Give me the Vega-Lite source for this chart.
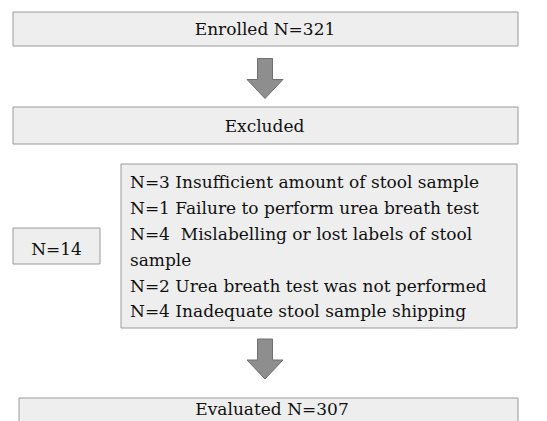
{
  "$schema": "https://vega.github.io/schema/vega-lite/v6.json",
  "width": 547,
  "height": 421,
  "padding": 0,
  "autosize": "none",
  "background": "white",
  "config": {"view": {"stroke": null}},
  "datasets": {
    "boxes": [
      {"box": "Enrolled", "x1": 13, "x2": 518, "y1": 12, "y2": 46},
      {"box": "Excluded", "x1": 13, "x2": 518, "y1": 107, "y2": 144},
      {"box": "N14", "x1": 13, "x2": 100, "y1": 228, "y2": 264},
      {"box": "Reasons", "x1": 121, "x2": 517, "y1": 164, "y2": 328},
      {"box": "Evaluated", "x1": 19, "x2": 518, "y1": 398, "y2": 440}
    ],
    "arrows": [
      {"arrow": "a1", "x": 265, "y": 78.5},
      {"arrow": "a2", "x": 265, "y": 359}
    ],
    "centered": [
      {"text": "Enrolled N=321", "x": 265, "y": 35},
      {"text": "Excluded", "x": 264.5, "y": 132},
      {"text": "N=14", "x": 56.5, "y": 255},
      {"text": "Evaluated N=307", "x": 272, "y": 415}
    ],
    "reasons": [
      {"text": "N=3 Insufficient amount of stool sample", "x": 130, "y": 188},
      {"text": "N=1 Failure to perform urea breath test", "x": 130, "y": 214},
      {"text": "N=4\u00a0 Mislabelling or lost labels of stool", "x": 130, "y": 240},
      {"text": "sample", "x": 130, "y": 266},
      {"text": "N=2 Urea breath test was not performed", "x": 130, "y": 292},
      {"text": "N=4 Inadequate stool sample shipping", "x": 130, "y": 317}
    ]
  },
  "layer": [
    {
      "data": {"name": "boxes"},
      "mark": {"type": "rect", "fill": "#eeeeee", "stroke": "#9a9a9a", "strokeWidth": 1},
      "encoding": {
        "x": {"field": "x1", "type": "quantitative", "scale": {"domain": [0, 547], "nice": false, "zero": false}, "axis": null},
        "x2": {"field": "x2"},
        "y": {"field": "y1", "type": "quantitative", "scale": {"domain": [0, 421], "nice": false, "zero": false, "reverse": true}, "axis": null},
        "y2": {"field": "y2"}
      }
    },
    {
      "data": {"name": "arrows"},
      "mark": {"type": "point", "shape": "M-0.375,-1L0.375,-1L0.375,0.05L0.9,0.05L0,1L-0.9,0.05L-0.375,0.05Z", "size": 1600, "filled": true, "fill": "#8e8e8e", "stroke": "#707070", "strokeWidth": 1, "opacity": 1},
      "encoding": {
        "x": {"field": "x", "type": "quantitative", "scale": {"domain": [0, 547], "nice": false, "zero": false}, "axis": null},
        "y": {"field": "y", "type": "quantitative", "scale": {"domain": [0, 421], "nice": false, "zero": false, "reverse": true}, "axis": null}
      }
    },
    {
      "data": {"name": "centered"},
      "mark": {"type": "text", "font": "DejaVu Serif", "fontSize": 17, "color": "#111111", "baseline": "alphabetic", "align": "center"},
      "encoding": {
        "x": {"field": "x", "type": "quantitative", "scale": {"domain": [0, 547], "nice": false, "zero": false}, "axis": null},
        "y": {"field": "y", "type": "quantitative", "scale": {"domain": [0, 421], "nice": false, "zero": false, "reverse": true}, "axis": null},
        "text": {"field": "text"}
      }
    },
    {
      "data": {"name": "reasons"},
      "mark": {"type": "text", "font": "DejaVu Serif", "fontSize": 17, "color": "#111111", "baseline": "alphabetic", "align": "left"},
      "encoding": {
        "x": {"field": "x", "type": "quantitative", "scale": {"domain": [0, 547], "nice": false, "zero": false}, "axis": null},
        "y": {"field": "y", "type": "quantitative", "scale": {"domain": [0, 421], "nice": false, "zero": false, "reverse": true}, "axis": null},
        "text": {"field": "text"}
      }
    }
  ]
}
